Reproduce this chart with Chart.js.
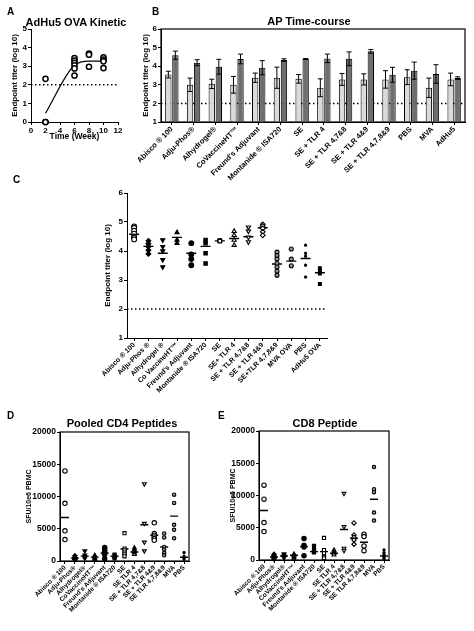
<!DOCTYPE html>
<html>
<head>
<meta charset="utf-8">
<title>Adjuvant comparison</title>
<script src="https://cdn.jsdelivr.net/npm/chart.js@4.4.1/dist/chart.umd.min.js"></script>
<style>
  body { margin: 0; background: #fff; font-family: 'Liberation Sans', Arial, sans-serif; }
  #page { position: relative; width: 474px; height: 631px; overflow: hidden; }
  canvas { position: absolute; }
  .lbl { position: absolute; font-weight: bold; font-size: 10px; line-height: 1; color: #000; }
  .ttl { position: absolute; width: 200px; text-align: center; font-weight: bold; font-size: 11px; line-height: 1; white-space: nowrap; color: #000; }
</style>
</head>
<body>
<div id="page">
  <canvas id="chartA" width="130" height="150" style="left:0;top:0"></canvas>
  <canvas id="chartB" width="384" height="200" style="left:90px;top:0"></canvas>
  <canvas id="chartC" width="340" height="250" style="left:0;top:160px"></canvas>
  <canvas id="chartD" width="230" height="231" style="left:0;top:400px"></canvas>
  <canvas id="chartE" width="254" height="231" style="left:220px;top:400px"></canvas>

  <div class="lbl" style="left:7px;top:7px">A</div>
  <div class="lbl" style="left:152px;top:7px">B</div>
  <div class="lbl" style="left:13px;top:175px">C</div>
  <div class="lbl" style="left:7px;top:411px">D</div>
  <div class="lbl" style="left:218px;top:411px">E</div>

  <div class="ttl" style="left:-24px;top:16.5px">AdHu5 OVA Kinetic</div>
  <div class="ttl" style="left:209px;top:16px">AP Time-course</div>
  <div class="ttl" style="left:22px;top:417.5px">Pooled CD4 Peptides</div>
  <div class="ttl" style="left:225px;top:417.5px">CD8 Peptide</div>
</div>

<script>
// ---- data ----
var titerCutoff = 2;

// A: AdHu5 OVA kinetic
var aWeeks = [2, 6, 8, 10];
var aTiters = [
    [0, 0, 2.32],
    [3.43, 3.3, 3.18, 3.05, 2.88, 2.5],
    [3.68, 3.62, 2.97],
    [3.47, 3.35, 3.26, 2.9]
];
var aFit = [0.47, 3.05, 3.27, 3.27];

// B: AP time-course (two time points, mean +/- SEM)
var bCategories = ['Abisco ® 100', 'Adju-Phos®', 'Alhydrogel®', 'CoVaccineHT™', "Freund's Adjuvant",
    'Montanide ® ISA720', 'SE', 'SE + TLR 4', 'SE + TLR 4,7&8', 'SE + TLR 4&9', 'SE + TLR 4,7,8&9',
    'PBS', 'MVA', 'AdHu5'];
var bEarly    = [3.55, 3.0, 3.05, 3.0, 3.38, 3.38, 3.32, 2.84, 3.29, 3.29, 3.29, 3.41, 2.84, 3.29];
var bEarlyErr = [0.18, 0.36, 0.25, 0.45, 0.25, 0.57, 0.23, 0.48, 0.32, 0.3, 0.47, 0.4, 0.52, 0.34];
var bLate     = [4.59, 4.19, 3.97, 4.39, 3.92, 4.33, 4.39, 4.42, 4.4, 4.8, 3.54, 3.76, 3.58, 3.36];
var bLateErr  = [0.22, 0.16, 0.4, 0.26, 0.38, 0.07, 0.02, 0.23, 0.37, 0.1, 0.4, 0.46, 0.5, 0.07];

// C: endpoint titers per animal
var cCategories = ['Abisco ® 100', 'Adju-Phos ®', 'Alhydrogel ®', 'Co VaccineHT™', "Freund's Adjuvant",
    'Montanide ® ISA720', 'SE', 'SE+ TLR 4', 'SE + TLR 4,7&8', 'SE + TLR 4&9', 'SE+TLR 4,7,8&9',
    'MVA OVA', 'PBS', 'AdHu5 OVA'];
var cValues = [
    [4.85, 4.8, 4.7, 4.6, 4.5, 4.45, 4.4],
    [4.35, 4.25, 4.15, 4.03, 3.9],
    [4.38, 4.15, 4.0, 3.7, 3.45],
    [4.64, 4.38, 4.27],
    [4.27, 3.88, 3.72, 3.51],
    [4.38, 4.27, 3.92, 3.57],
    [4.36, 4.35, 4.34],
    [4.68, 4.54, 4.38, 4.2],
    [4.82, 4.68, 4.47, 4.31],
    [4.92, 4.86, 4.78, 4.66, 4.54],
    [3.96, 3.84, 3.72, 3.57, 3.45, 3.3, 3.16],
    [4.07, 3.72, 3.49],
    [4.2, 3.92, 3.82, 3.51, 3.1],
    [3.41, 3.3, 3.22, 2.86]
];
var cMeans = [4.58, 4.16, 3.92, 4.47, 3.92, 4.16, 4.35, 4.43, 4.49, 4.8, 3.55, 3.65, 3.74, 3.25];

// D / E: ELISpot
var spotCategories = ['Abisco ® 100', 'Adju-Phos®', 'Alhydrogel®', 'CoVaccineHT™', "Freund's Adjuvant",
    'Montanide ® ISA720', 'SE', 'SE TLR 4', 'SE + TLR 4,7&8', 'SE + TLR 4&9', 'SE TLR 4,7,8&9', 'MVA', 'PBS'];
var cd4Values = [
    [13970, 8935, 4675, 3325],
    [800, 600, 500, 400, 300, 200],
    [1550, 900, 650, 400],
    [880, 620, 360, 200],
    [2080, 1870, 1560, 1250, 990, 360],
    [990, 780, 620, 420],
    [4310, 1920, 1660, 1300, 1040, 730],
    [2030, 1770, 1510, 1250, 1040],
    [11950, 5820, 2910, 1560],
    [5920, 4260, 4000, 3740, 3480, 3220],
    [4260, 3640, 2180, 1770, 1250, 880],
    [10290, 8990, 5610, 4830, 3530],
    [1300, 730, 470, 260]
];
var cd4Means = [6750, 450, 750, 600, 1250, 730, 1850, 1400, 5610, 4000, 2180, 6960, 570];
var cd8Values = [
    [11600, 9430, 5800, 4400],
    [880, 670, 470, 310, 160],
    [930, 730, 520, 310],
    [930, 730, 520, 310],
    [3320, 2280, 2020, 670],
    [2180, 1550, 1300, 1190],
    [3420, 1550, 1040, 520, 260],
    [1550, 1300, 1040, 780],
    [10310, 5180, 1810, 1450],
    [5750, 3890, 3520, 3110, 2440],
    [3990, 3630, 2180, 1450],
    [14400, 10980, 10520, 7360, 6110],
    [1550, 1140, 830, 410, 210]
];
var cd8Means = [7670, 470, 620, 730, 2070, 1300, 1300, 1040, 4720, 3370, 2750, 9430, 620];

// ---- marker styles ----
var OPEN = '#fff', FULL = '#000', HALF = '#9a9a9a';
var cMarks = [
    { style: 'circle', fill: OPEN },
    { style: 'rectRot', fill: FULL },
    { style: 'triangle', fill: FULL, rot: 180 },
    { style: 'triangle', fill: FULL },
    { style: 'circle', fill: FULL },
    { style: 'rect', fill: FULL },
    { style: 'rect', fill: OPEN },
    { style: 'triangle', fill: OPEN },
    { style: 'triangle', fill: OPEN, rot: 180 },
    { style: 'rectRot', fill: OPEN },
    { style: 'circle', fill: HALF, r: 2 },
    { style: 'circle', fill: HALF, r: 2 },
    { style: 'star', fill: FULL, r: 1.6 },
    { style: 'rect', fill: FULL, r: 2 }
];
var cd4Marks = cMarks.slice(0, 9).concat([
    { style: 'circle', fill: OPEN },
    { style: 'circle', fill: HALF, r: 1.7 },
    { style: 'circle', fill: HALF, r: 1.7 },
    { style: 'star', fill: FULL, r: 1.6 }
]);
var cd8Marks = cMarks.slice(0, 9).concat([
    { style: 'rectRot', fill: OPEN },
    { style: 'circle', fill: OPEN },
    { style: 'circle', fill: HALF, r: 1.7 },
    { style: 'star', fill: FULL, r: 1.6 }
]);

Chart.defaults.font.family = "'Liberation Sans', Arial, sans-serif";
Chart.defaults.font.weight = 'bold';
Chart.defaults.font.size = 8;
Chart.defaults.color = '#000';
Chart.defaults.animation = false;
Chart.defaults.plugins.legend.display = false;
Chart.defaults.plugins.tooltip.enabled = false;

// dotted cut-off line across the plot
var refLinePlugin = {
    id: 'refLine',
    beforeDatasetsDraw: function (chart, args, opts) {
        if (opts.value === undefined) return;
        var a = chart.chartArea, ctx = chart.ctx;
        var y = chart.scales.y.getPixelForValue(opts.value);
        ctx.save();
        ctx.setLineDash([1.5, 2.5]);
        ctx.lineWidth = 1.5;
        ctx.strokeStyle = '#000';
        ctx.beginPath();
        ctx.moveTo(a.left, y);
        ctx.lineTo(a.right, y);
        ctx.stroke();
        ctx.restore();
    }
};

var framePlugin = {
    id: 'frame',
    afterDraw: function (chart) {
        var a = chart.chartArea, ctx = chart.ctx;
        ctx.save();
        ctx.strokeStyle = '#000';
        ctx.lineWidth = 1.2;
        ctx.strokeRect(a.left, a.top, a.right - a.left, a.bottom - a.top);
        ctx.restore();
    }
};

var errorBarPlugin = {
    id: 'errorBars',
    afterDatasetsDraw: function (chart) {
        var ctx = chart.ctx, yS = chart.scales.y;
        chart.data.datasets.forEach(function (ds, i) {
            if (!ds.errors) return;
            chart.getDatasetMeta(i).data.forEach(function (bar, j) {
                var top = yS.getPixelForValue(ds.data[j] + ds.errors[j]);
                var bot = yS.getPixelForValue(ds.data[j] - ds.errors[j]);
                ctx.save();
                ctx.strokeStyle = '#000';
                ctx.lineWidth = 1;
                ctx.beginPath();
                ctx.moveTo(bar.x, top); ctx.lineTo(bar.x, bot);
                ctx.moveTo(bar.x - 2.5, top); ctx.lineTo(bar.x + 2.5, top);
                ctx.moveTo(bar.x - 2.5, bot); ctx.lineTo(bar.x + 2.5, bot);
                ctx.stroke();
                ctx.restore();
            });
        });
    }
};

function yScale(min, max, step, title, width, titleSize, tickSize) {
    return {
        min: min,
        max: max,
        ticks: {
            stepSize: step, padding: 1, font: { size: tickSize || 8 },
            callback: function (v) { return String(v); }
        },
        grid: { drawOnChartArea: false, tickLength: 3, color: '#000' },
        border: { color: '#000', width: 1 },
        title: { display: true, text: title, padding: 0, font: { size: titleSize } },
        afterFit: function (s) { s.width = width; s.paddingTop = 0; s.paddingBottom = 0; }
    };
}

function catScale(height, fontSize) {
    return {
        type: 'category',
        offset: true,
        ticks: { autoSkip: false, minRotation: 45, maxRotation: 45, padding: 0, font: { size: fontSize } },
        grid: { offset: false, drawOnChartArea: false, tickLength: 3, color: '#000' },
        border: { color: '#000', width: 1 },
        afterFit: function (s) { s.height = height; s.paddingLeft = 0; s.paddingRight = 0; }
    };
}

function groupDatasets(cats, values, marks, size) {
    return values.map(function (vals, i) {
        var m = marks[i];
        return {
            data: vals.map(function (v) { return { x: cats[i], y: v }; }),
            showLine: false,
            clip: false,
            pointStyle: m.style,
            pointRotation: m.rot || 0,
            pointRadius: m.r || size,
            pointBackgroundColor: m.fill,
            pointBorderColor: '#000',
            pointBorderWidth: 1.1
        };
    });
}

function meanDataset(cats, means, half) {
    return {
        data: means.map(function (v, i) { return { x: cats[i], y: v }; }),
        showLine: false,
        pointStyle: 'line',
        pointRadius: half,
        pointBorderColor: '#000',
        pointBorderWidth: 1.4
    };
}

// ---- A ----
var aPoints = [];
aWeeks.forEach(function (w, i) {
    aTiters[i].forEach(function (v) { aPoints.push({ x: w, y: v }); });
});

new Chart(document.getElementById('chartA'), {
    type: 'scatter',
    data: {
        datasets: [
            {
                data: aPoints,
                clip: false,
                pointStyle: 'circle',
                pointRadius: 2.6,
                pointBackgroundColor: '#fff',
                pointBorderColor: '#000',
                pointBorderWidth: 1.5
            },
            {
                type: 'line',
                data: aWeeks.map(function (w, i) { return { x: w, y: aFit[i] }; }),
                borderColor: '#000',
                borderWidth: 1.2,
                pointRadius: 0,
                cubicInterpolationMode: 'monotone'
            }
        ]
    },
    options: {
        responsive: false,
        layout: { padding: { left: 10, top: 29, right: 12, bottom: 8 } },
        scales: {
            x: {
                type: 'linear', min: 0, max: 12,
                ticks: { stepSize: 2, padding: 1, autoSkip: false, maxRotation: 0 },
                grid: { drawOnChartArea: false, tickLength: 3, color: '#000' },
                border: { color: '#000', width: 1 },
                title: { display: true, text: 'Time (Week)', padding: 0, font: { size: 8.5 } },
                afterFit: function (s) { s.height = 20; s.paddingLeft = 0; s.paddingRight = 0; }
            },
            y: yScale(0, 5, 1, 'Endpoint titer (log 10)', 21, 8)
        },
        plugins: { refLine: { value: titerCutoff } }
    },
    plugins: [refLinePlugin]
});

// ---- B ----
new Chart(document.getElementById('chartB'), {
    type: 'bar',
    data: {
        labels: bCategories,
        datasets: [
            {
                data: bEarly, errors: bEarlyErr, base: 1,
                backgroundColor: '#dadada', borderColor: '#000', borderWidth: 1,
                categoryPercentage: 0.65, barPercentage: 0.9
            },
            {
                data: bLate, errors: bLateErr, base: 1,
                backgroundColor: '#6e6e6e', borderColor: '#000', borderWidth: 1,
                categoryPercentage: 0.65, barPercentage: 0.9
            }
        ]
    },
    options: {
        responsive: false,
        layout: { padding: { left: 51, top: 29, right: 9, bottom: 0 } },
        scales: {
            x: catScale(78, 7.5),
            y: yScale(1, 6, 1, 'Endpoint titer (log 10)', 20, 8)
        },
        plugins: { refLine: { value: titerCutoff } }
    },
    plugins: [refLinePlugin, errorBarPlugin, framePlugin]
});

// ---- C ----
new Chart(document.getElementById('chartC'), {
    type: 'line',
    data: {
        labels: cCategories,
        datasets: groupDatasets(cCategories, cValues, cMarks, 2.4).concat([meanDataset(cCategories, cMeans, 5)])
    },
    options: {
        responsive: false,
        layout: { padding: { left: 103, top: 33, right: 13, bottom: 0 } },
        scales: {
            x: catScale(72, 7),
            y: yScale(1, 6, 1, 'Endpoint titer (log 10)', 24, 8)
        },
        plugins: { refLine: { value: titerCutoff } }
    },
    plugins: [refLinePlugin]
});

// ---- D ----
new Chart(document.getElementById('chartD'), {
    type: 'line',
    data: {
        labels: spotCategories,
        datasets: groupDatasets(spotCategories, cd4Values, cd4Marks, 2.2).concat([meanDataset(spotCategories, cd4Means, 4)])
    },
    options: {
        responsive: false,
        layout: { padding: { left: 25, top: 32, right: 41, bottom: 0 } },
        scales: {
            x: catScale(70, 6.5),
            y: yScale(0, 20000, 5000, 'SFU/10e6 PBMC', 35, 7, 8.5)
        }
    },
    plugins: [framePlugin]
});

// ---- E ----
new Chart(document.getElementById('chartE'), {
    type: 'line',
    data: {
        labels: spotCategories,
        datasets: groupDatasets(spotCategories, cd8Values, cd8Marks, 2.2).concat([meanDataset(spotCategories, cd8Means, 4)])
    },
    options: {
        responsive: false,
        layout: { padding: { left: 9, top: 31, right: 85, bottom: 0 } },
        scales: {
            x: catScale(71, 6.5),
            y: yScale(0, 20000, 5000, 'SFU/10e6 PBMC', 30, 7, 8.5)
        }
    },
    plugins: [framePlugin]
});
</script>
</body>
</html>
